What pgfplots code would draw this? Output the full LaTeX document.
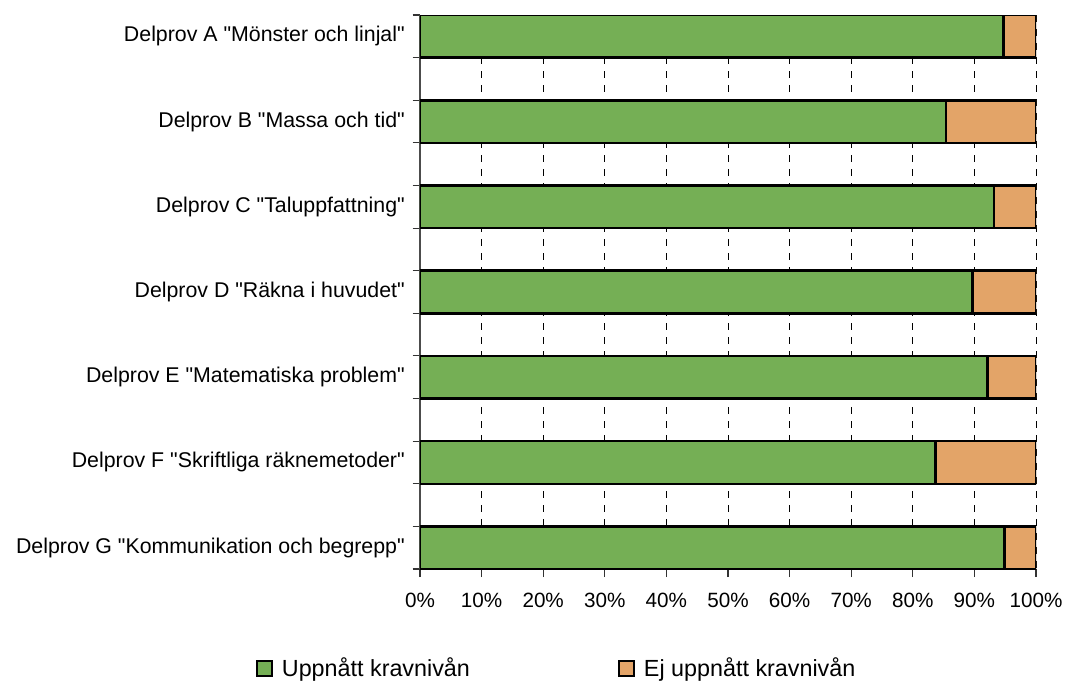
\documentclass[border=0pt]{standalone}
\usepackage{pgfplots}
\pgfplotsset{compat=1.18}
\usepackage{fontspec}
\setmainfont{Liberation Sans}[Ligatures=TeXOff]
\definecolor{cgreen}{RGB}{117,175,85}
\definecolor{corange}{RGB}{227,164,104}
\begin{document}
\begin{tikzpicture}[x=1pt,y=1pt]
\path[use as bounding box] (0,0) rectangle (798.75,512.25);
\begin{axis}[
  at={(315pt,85.5pt)}, anchor=south west,
  scale only axis, width=462pt, height=415.5pt,
  xbar stacked, bar width=0.5,
  y dir=reverse, ymin=-0.25, ymax=6.25,
  xmin=0, xmax=100,
  axis x line*=bottom, axis y line*=left,
  axis line style={gray!60!black, line width=1pt, -},
  tick align=outside,
  major tick length=6pt, minor tick length=5.5pt,
  ytick={0,...,6},
  yticklabels={Delprov A "Mönster och linjal",Delprov B "Massa och tid",Delprov C "Taluppfattning",Delprov D "Räkna i huvudet",Delprov E "Matematiska problem",Delprov F "Skriftliga räknemetoder",Delprov G "Kommunikation och begrepp"},
  minor ytick={-0.25,0.25,...,6.3},
  major y tick style={draw=none},
  minor y tick style={draw=gray!40!black, line width=0.8pt},
  major x tick style={draw=gray!40!black, line width=0.8pt},
  y tick label style={font=\fontsize{16}{19}\selectfont, anchor=east, inner sep=0pt, xshift=-5.25pt},
  xtick={0,10,...,90},
  xticklabels={0\%,10\%,20\%,30\%,40\%,50\%,60\%,70\%,80\%,90\%},
  extra x ticks={100},
  extra x tick labels={100\%},
  extra x tick style={major grid style={gray, solid, line width=1.6pt}},
  x tick label style={font=\fontsize{15.5}{18}\selectfont, yshift=-8.5pt},
  xmajorgrids,
  major x grid style={black, dash pattern=on 5.5pt off 5pt, line width=0.6pt},
  legend columns=2,
  legend style={at={(0.2224,-0.178)}, anchor=center, draw=none,
    font=\fontsize{17.5}{21}\selectfont,
    /tikz/every odd column/.append style={column sep=5pt},
    /tikz/every even column/.append style={column sep=109pt}},
  legend image code/.code={\draw[#1, draw=black, line width=1.5pt] (0pt,-6.2pt) rectangle (11pt,4.8pt);},
]
\addplot[fill=cgreen, draw=black, line width=1.9pt] coordinates {(94.7,0) (85.4,1) (93.2,2) (89.7,3) (92.1,4) (83.7,5) (94.9,6)};
\addplot[fill=corange, draw=black, line width=1.9pt] coordinates {(5.3,0) (14.6,1) (6.8,2) (10.3,3) (7.9,4) (16.3,5) (5.1,6)};
\legend{Uppnått kravnivån,Ej uppnått kravnivån}
\end{axis}
\end{tikzpicture}
\end{document}
